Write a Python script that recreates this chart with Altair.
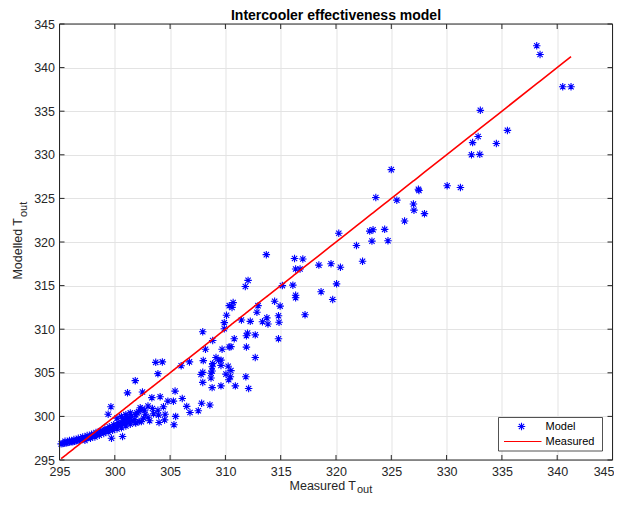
import altair as alt
import pandas as pd

# ---- data ----
measured = [
    338.15, 338.45, 340.5, 341.25, 333.05, 335.5, 332.85, 332.35, 334.5, 332.25, 333.0,
    325.0, 330.05, 331.25, 327.45, 327.5, 323.6, 325.5, 327.0, 327.05, 328.0, 326.2,
    320.25, 323.05, 323.35, 324.4, 323.25, 324.7, 321.85, 322.4, 317.0, 318.45, 319.55,
    320.4, 316.75,
    313.7, 316.25, 316.35, 320.05, 312.05, 311.8, 315.15, 316.1, 316.35, 316.35, 318.65,
    319.7, 314.45, 314.95, 310.35, 310.7, 310.6, 312.95, 312.85, 311.45, 312.25, 313.35,
    313.75, 313.85, 314.8, 314.85, 317.2, 310.1, 309.9, 309.9, 307.95, 311.9, 312.0,
    312.7, 310.8, 314.8, 308.85, 310.35, 310.5, 311.9, 308.2, 309.7, 312.7, 309.15,
    309.4, 309.6, 308.0, 303.7, 304.3, 306.0, 306.75, 308.85, 308.8, 308.8, 310.25,
    303.9, 307.95, 307.8, 308.7, 310.05, 310.45,
    301.85, 301.15, 309.6, 310.5, 308.7, 307.95, 308.8, 309.6, 310.9, 312.1, 311.85,
    310.3, 307.85, 308.6, 307.55, 306.5, 306.8, 305.5, 305.35, 304.55, 303.95, 304.4,
    305.3, 304.8, 306.1, 305.45, 304.1, 303.35, 302.5, 302.15, 302.75, 302.45, 303.15,
    301.85, 300.7, 299.65, 299.4, 299.7,
    295.15, 295.3, 295.45, 295.6, 295.75, 295.9, 296.05, 296.2, 296.35, 296.5, 296.65,
    296.8, 296.95, 297.1, 297.25, 297.4, 297.55, 297.7, 297.85, 298.0, 298.15, 298.3,
    298.45, 298.6, 298.75, 298.9, 299.05, 299.2, 299.35, 299.5, 299.65, 299.8, 299.95,
    300.1, 300.3, 300.5, 300.7, 300.9, 301.1, 301.3, 301.55, 301.8,
    295.5, 295.9, 296.3, 296.7, 297.1, 297.5, 297.9, 298.3, 298.7, 299.1, 299.5, 299.9,
    300.3, 300.7, 301.1, 301.5, 301.9,
    297.3, 297.8, 298.2, 298.6, 299.0, 299.4, 299.8, 300.2, 300.6, 301.0, 301.4, 301.9,
    302.4,
    300.2, 300.6, 301.0, 301.4, 300.9, 301.3,
    302.0, 302.3, 302.7, 303.0, 303.4, 302.6, 303.0, 303.5, 303.9, 302.2, 304.0, 304.5,
]
modelled = [
    342.5, 341.5, 337.8, 337.8, 335.1, 332.8, 332.1, 331.4, 331.3, 330.0, 330.05,
    328.3, 326.45, 326.25, 326.05, 325.9, 325.1, 324.8, 324.35, 323.65, 323.25, 322.4,
    321.0, 321.25, 321.4, 321.45, 320.1, 320.15, 319.6, 317.8, 318.05, 317.35, 317.5,
    317.1, 316.9,
    318.55, 318.1, 316.9, 315.2, 315.6, 314.9, 315.0, 315.05, 313.9, 313.6, 314.3,
    313.4, 313.2, 312.65, 312.7, 313.05, 312.5, 312.7, 311.95, 311.05, 310.9, 310.85,
    311.3, 310.6, 311.55, 310.8, 311.65, 311.6, 310.75, 310.05, 309.7, 309.25, 309.55,
    309.35, 308.9, 308.9, 308.7, 307.95, 308.0, 307.95, 307.7, 307.7, 306.75, 306.75,
    306.45, 306.45, 306.4, 306.2, 306.25, 305.8, 306.25, 306.05, 305.7, 305.2, 305.75,
    304.9, 305.05, 304.8, 304.95, 304.85, 304.55,
    304.1, 302.7, 305.85, 305.25, 304.4, 303.9, 303.3, 303.5, 303.5, 303.2, 304.55,
    304.2, 301.5, 301.3, 300.65, 301.15, 300.45, 300.0, 299.05, 300.25, 300.15, 301.1,
    301.75, 301.75, 302.05, 302.9, 302.25, 302.15, 302.8, 300.55, 300.25, 300.85, 299.5,
    299.3, 297.7, 301.1, 300.25, 297.5,
    296.85, 296.9, 296.95, 296.95, 297.0, 297.05, 297.1, 297.1, 297.15, 297.2, 297.25,
    297.3, 297.35, 297.4, 297.45, 297.5, 297.55, 297.65, 297.7, 297.8, 297.85, 297.95,
    298.0, 298.1, 298.15, 298.25, 298.3, 298.4, 298.45, 298.55, 298.6, 298.7, 298.75,
    298.85, 298.95, 299.05, 299.15, 299.25, 299.35, 299.45, 299.55, 299.65,
    297.15, 297.25, 297.35, 297.5, 297.65, 297.8, 297.95, 298.15, 298.35, 298.55, 298.8,
    299.05, 299.3, 299.55, 299.8, 300.0, 300.2,
    297.25, 297.5, 297.65, 297.85, 298.05, 298.2, 298.4, 298.55, 298.7, 298.9, 299.1,
    299.25, 299.4,
    299.8, 300.0, 300.2, 300.4, 299.7, 299.9,
    300.4, 301.0, 300.7, 301.2, 300.9, 299.8, 299.9, 300.3, 300.7, 299.4, 299.3, 299.6,
]
ticks = [295, 300, 305, 310, 315, 320, 325, 330, 335, 340, 345]
title_text = "Intercooler effectiveness model"
x_label, x_sub = "Measured T", "out"
y_label, y_sub = "Modelled T", "out"
legend_labels = ["Model", "Measured"]

df = pd.DataFrame({"measured": measured, "modelled": modelled})
tdf = pd.DataFrame({"t": ticks})
one = alt.Data(values=[{"k": 0}])

W, H = 553, 436
FONT = "Liberation Sans"
INK = "#262626"
STAR = "M0,-1L0,1M-1,0L1,0M-0.71,-0.71L0.71,0.71M-0.71,0.71L0.71,-0.71"

xs = alt.Scale(domain=[295, 345], nice=False, zero=False)
ys = alt.Scale(domain=[295, 345], nice=False, zero=False)
xaxis = alt.Axis(values=ticks, grid=True, gridColor="#e3e3e3", gridWidth=1, domain=False,
                 ticks=False, labelFont=FONT, labelFontSize=12.5, labelColor=INK,
                 labelPadding=5, title=None, labelFlush=False,
                 labelAlign={"condition": {"test": "datum.value >= 345", "value": "right"},
                             "value": "center"},
                 labelOffset={"condition": {"test": "datum.value >= 345", "value": 1.5},
                              "value": 0})
yaxis = alt.Axis(values=ticks, grid=True, gridColor="#e3e3e3", gridWidth=1, domain=False,
                 ticks=False, labelFont=FONT, labelFontSize=12.5, labelColor=INK,
                 labelPadding=5, title=None, labelFlush=False)

points = alt.Chart(df).mark_point(shape=STAR, filled=False, color="#0000ff", strokeWidth=1.1,
                                  size=56, opacity=1).encode(
    x=alt.X("measured:Q", scale=xs, axis=xaxis),
    y=alt.Y("modelled:Q", scale=ys, axis=yaxis),
)
line = alt.Chart(df).mark_line(color="#ff0000", strokeWidth=1.6).encode(
    x=alt.X("measured:Q", scale=xs, axis=xaxis),
    y=alt.Y("measured:Q", scale=ys, axis=yaxis),
)

tick_bottom = alt.Chart(tdf).mark_rule(color=INK, strokeWidth=1).encode(
    x=alt.X("t:Q", scale=xs, axis=xaxis), y=alt.value(H), y2=alt.value(H - 5))
tick_top = alt.Chart(tdf).mark_rule(color=INK, strokeWidth=1).encode(
    x=alt.X("t:Q", scale=xs, axis=xaxis), y=alt.value(0), y2=alt.value(5))
tick_left = alt.Chart(tdf).mark_rule(color=INK, strokeWidth=1).encode(
    y=alt.Y("t:Q", scale=ys, axis=yaxis), x=alt.value(0), x2=alt.value(5))
tick_right = alt.Chart(tdf).mark_rule(color=INK, strokeWidth=1).encode(
    y=alt.Y("t:Q", scale=ys, axis=yaxis), x=alt.value(W), x2=alt.value(W - 5))

frame = alt.Chart(one).mark_rect(fillOpacity=0, stroke=INK, strokeWidth=1).encode(
    x=alt.value(0), x2=alt.value(W), y=alt.value(0), y2=alt.value(H))

leg_box = alt.Chart(one).mark_rect(fill="white", stroke=INK, strokeWidth=0.8).encode(
    x=alt.value(439), x2=alt.value(543), y=alt.value(393.5), y2=alt.value(427))
leg_pt = alt.Chart(one).mark_point(shape=STAR, filled=False, color="#0000ff", strokeWidth=1.1,
                                   size=56, opacity=1).encode(x=alt.value(462), y=alt.value(402.5))
leg_line = alt.Chart(one).mark_rule(color="#ff0000", strokeWidth=1).encode(
    x=alt.value(444.5), x2=alt.value(482), y=alt.value(417.5))
leg_t1 = alt.Chart(one).mark_text(text=legend_labels[0], font=FONT, fontSize=11, color="black",
                                  align="left", baseline="middle").encode(
    x=alt.value(486), y=alt.value(402.5))
leg_t2 = alt.Chart(one).mark_text(text=legend_labels[1], font=FONT, fontSize=11, color="black",
                                  align="left", baseline="middle").encode(
    x=alt.value(486), y=alt.value(417.5))

title = alt.Chart(one).mark_text(text=title_text, font=FONT, fontSize=14, fontWeight="bold",
                                 color="black", align="center", baseline="alphabetic").encode(
    x=alt.value(W / 2), y=alt.value(-4))

xl1 = alt.Chart(one).mark_text(text=x_label, font=FONT, fontSize=12.5, color=INK,
                               align="right", baseline="alphabetic").encode(
    x=alt.value(296.5), y=alt.value(465.5))
xl2 = alt.Chart(one).mark_text(text=x_sub, font=FONT, fontSize=11, color=INK,
                               align="left", baseline="alphabetic").encode(
    x=alt.value(297.5), y=alt.value(468.5))
yl1 = alt.Chart(one).mark_text(text=y_label, font=FONT, fontSize=12.5, color=INK, angle=270,
                               align="right", baseline="alphabetic").encode(
    x=alt.value(-38), y=alt.value(194))
yl2 = alt.Chart(one).mark_text(text=y_sub, font=FONT, fontSize=11, color=INK, angle=270,
                               align="left", baseline="alphabetic").encode(
    x=alt.value(-33), y=alt.value(193))

chart = alt.layer(
    points, line, tick_bottom, tick_top, tick_left, tick_right, frame,
    leg_box, leg_pt, leg_line, leg_t1, leg_t2, title, xl1, xl2, yl1, yl2,
).properties(
    width=W, height=H,
    padding={"left": 51.5, "top": 16, "right": 1.5, "bottom": 35},
    autosize=alt.AutoSizeParams(type="none"),
).configure_view(stroke=None)

chart.save("out.html", embed_options={"renderer": "svg", "actions": False})
